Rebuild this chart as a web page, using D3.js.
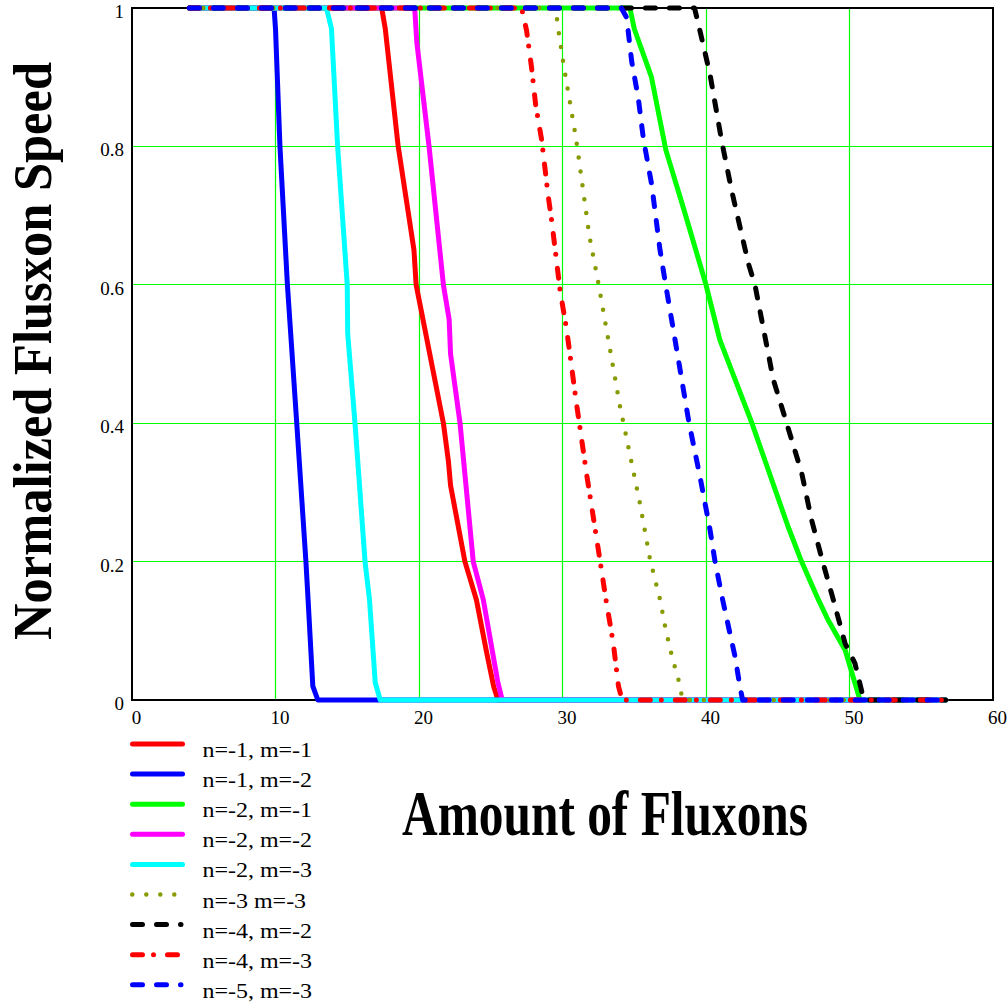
<!DOCTYPE html>
<html>
<head>
<meta charset="utf-8">
<script src="https://cdn.jsdelivr.net/npm/d3@7"></script>
<style>
  body { margin: 0; background: #fff; }
  svg { display: block; }
</style>
</head>
<body>
<svg id="chart" width="1007" height="1002"></svg>
<script>
// ---- axis ticks ----
const xTicks = [0, 10, 20, 30, 40, 50, 60];
const yTicks = [0, 0.2, 0.4, 0.6, 0.8, 1];
const yTickLabels = ["0", "0.2", "0.4", "0.6", "0.8", "1"];
const xGrid = [10, 20, 30, 40, 50];
const yGrid = [0.2, 0.4, 0.6, 0.8];

// ---- series: [amount of fluxons, normalized speed] ----
const seriesNames = [
  "n=-1, m=-1", "n=-1, m=-2", "n=-2, m=-1", "n=-2, m=-2", "n=-2, m=-3",
  "n=-3 m=-3", "n=-4, m=-2", "n=-4, m=-3", "n=-5, m=-3"
];

const n1m1 = [[4,1],[17.4,1],[17.65,0.97],[18.55,0.8],[19.65,0.65],[19.8,0.6],[21.7,0.4],[22.05,0.345],
  [22.2,0.31],[23.2,0.2],[24.0,0.145],[24.7,0.07],[25.2,0.02],[25.5,0],[56.7,0]];
const n1m2 = [[4,1],[9.9,1],[10.0,0.97],[10.31,0.8],[10.83,0.6],[11.48,0.4],[12.12,0.2],[12.27,0.145],
  [12.6,0.02],[12.95,0],[56.7,0]];
const n2m1 = [[4,1],[34.7,1],[35.0,0.97],[36.2,0.9],[37.2,0.795],[38.5,0.706],[40.0,0.6],[40.97,0.52],
  [43.2,0.4],[45.73,0.25],[46.66,0.2],[47.83,0.145],[48.5,0.116],[49.7,0.072],[50.73,0],[56.7,0]];
const n2m2 = [[4,1],[19.7,1],[19.85,0.95],[20.7,0.8],[21.7,0.6],[22.1,0.55],[22.2,0.5],[22.86,0.4],
  [23.78,0.2],[24.48,0.145],[25.5,0.025],[25.8,0],[56.7,0]];
const n2m3 = [[4,1],[13.55,1],[13.9,0.97],[14.33,0.8],[15.0,0.6],[15.03,0.53],[15.54,0.4],[16.24,0.2],
  [16.55,0.145],[16.95,0.025],[17.3,0],[56.7,0]];
const n3m3 = [[4,1],[29.55,1],[29.64,0.978],[30.1,0.915],[30.94,0.812],[31.87,0.671],[32.52,0.6],
  [33.3,0.508],[33.99,0.426],[35.4,0.284],[36.1,0.203],[36.8,0.145],[37.19,0.102],[37.65,0.061],
  [38.19,0.021],[38.35,0],[56.7,0]];
const n4m2 = [[4,1],[39.2,1],[39.58,0.967],[40.28,0.904],[41.09,0.808],[41.79,0.736],[42.95,0.631],
  [43.41,0.6],[44.69,0.463],[45.62,0.4],[46.67,0.328],[47.36,0.26],[48.13,0.2],[48.87,0.145],
  [49.69,0.082],[50.38,0.053],[51.0,0],[56.7,0]];
const n4m3 = [[4,1],[27.15,1],[27.5,0.967],[27.85,0.913],[28.13,0.86],[28.55,0.809],[29.0,0.729],
  [29.25,0.692],[29.83,0.592],[30.29,0.535],[30.99,0.426],[31.69,0.325],[32.5,0.217],[33.03,0.145],
  [33.54,0.082],[33.9,0.02],[34.15,0],[56.7,0]];
const n5m3 = [[4,1],[34.1,1],[34.47,0.986],[34.82,0.923],[35.28,0.87],[35.63,0.812],[36.22,0.744],
  [36.79,0.651],[37.19,0.6],[37.96,0.506],[38.82,0.4],[39.58,0.323],[40.28,0.246],[40.63,0.2],
  [41.16,0.145],[41.67,0.096],[42.02,0.063],[42.37,0.019],[42.55,0],[56.7,0]];

const seriesData = [n1m1, n1m2, n2m1, n2m2, n2m3, n3m3, n4m2, n4m3, n5m3];

// line styles, one per series
const styles = [
  { color: "#ff0000", width: 5, dash: null },
  { color: "#0000ff", width: 5, dash: null },
  { color: "#00ff00", width: 5, dash: null },
  { color: "#ff00ff", width: 5, dash: null },
  { color: "#00ffff", width: 5, dash: null },
  { color: "#879a00", width: 4.5, dash: "0,14" },
  { color: "#000000", width: 5, dash: "10,14" },
  { color: "#ff0000", width: 5, dash: "10,11,0,14" },
  { color: "#0000ff", width: 5, dash: "10,14" }
];

const serif = "'Liberation Serif', 'Times New Roman', serif";
const svg = d3.select("#chart");

const x = d3.scaleLinear().domain([0, 60]).range([132, 993]);
const y = d3.scaleLinear().domain([0, 1]).range([700, 8]);
const snap = v => Math.floor(v) + 0.5;

// grid
const grid = svg.append("g");
grid.selectAll("line.gx").data(xGrid).join("line").attr("class", "gx")
  .attr("x1", d => snap(x(d))).attr("x2", d => snap(x(d)))
  .attr("y1", y(0)).attr("y2", y(1))
  .attr("stroke", "#00ff00").attr("stroke-width", 1.2);
grid.selectAll("line.gy").data(yGrid).join("line").attr("class", "gy")
  .attr("x1", x(0)).attr("x2", x(60))
  .attr("y1", d => snap(y(d))).attr("y2", d => snap(y(d)))
  .attr("stroke", "#00ff00").attr("stroke-width", 1.2);

// frame
svg.append("rect")
  .attr("x", x(0)).attr("y", y(1))
  .attr("width", x(60) - x(0)).attr("height", y(0) - y(1))
  .attr("fill", "none").attr("stroke", "#000").attr("stroke-width", 2);

// axes (labels only, no tick marks)
const xAxis = svg.append("g").attr("transform", `translate(4,${y(0)})`)
  .call(d3.axisBottom(x).tickValues(xTicks).tickFormat(d3.format("d")).tickSize(0).tickPadding(11));
const yAxis = svg.append("g").attr("transform", `translate(${x(0) - 8},3.5)`)
  .call(d3.axisLeft(y).tickValues(yTicks).tickFormat((d, i) => yTickLabels[i]).tickSize(0).tickPadding(0));
[xAxis, yAxis].forEach(a => {
  a.select(".domain").remove();
  a.selectAll("text").attr("font-family", serif).attr("font-size", 19).attr("fill", "#000");
});

// curves
const line = d3.line().x(d => x(d[0])).y(d => y(d[1]));
const curves = svg.append("g");
seriesData.forEach((data, i) => {
  const s = styles[i];
  curves.append("path")
    .attr("d", line(data))
    .attr("fill", "none")
    .attr("stroke", s.color)
    .attr("stroke-width", s.width)
    .attr("stroke-linecap", "round")
    .attr("stroke-linejoin", "round")
    .attr("stroke-dasharray", s.dash);
});

// legend
const legend = svg.append("g");
const legendTop = 744, legendStep = 30.1;
seriesNames.forEach((name, i) => {
  const s = styles[i];
  const ly = legendTop + i * legendStep;
  const x2 = s.dash === "0,14" ? 175 : (s.dash === "10,11,0,14" ? 178.5 : (s.dash ? 181 : 182.5));
  legend.append("line")
    .attr("x1", s.dash === "0,14" ? 132.3 : 132.5).attr("x2", x2)
    .attr("y1", ly).attr("y2", ly)
    .attr("stroke", s.color)
    .attr("stroke-width", s.width)
    .attr("stroke-linecap", "round")
    .attr("stroke-dasharray", s.dash);
  legend.append("text")
    .attr("transform", `translate(202.5,${ly + 13}) scale(1.17,1)`)
    .attr("font-family", serif).attr("font-size", 20.5).attr("fill", "#000")
    .text(name);
});

// axis titles
svg.append("text")
  .attr("x", 605).attr("y", 835)
  .attr("text-anchor", "middle")
  .attr("font-family", serif).attr("font-weight", "bold").attr("font-size", 64)
  .attr("textLength", 406).attr("lengthAdjust", "spacingAndGlyphs")
  .text("Amount of Fluxons");

svg.append("text")
  .attr("transform", "translate(51,351) rotate(-90)")
  .attr("text-anchor", "middle")
  .attr("font-family", serif).attr("font-weight", "bold").attr("font-size", 55)
  .attr("textLength", 578).attr("lengthAdjust", "spacingAndGlyphs")
  .text("Normalized Flusxon Speed");
</script>
</body>
</html>
